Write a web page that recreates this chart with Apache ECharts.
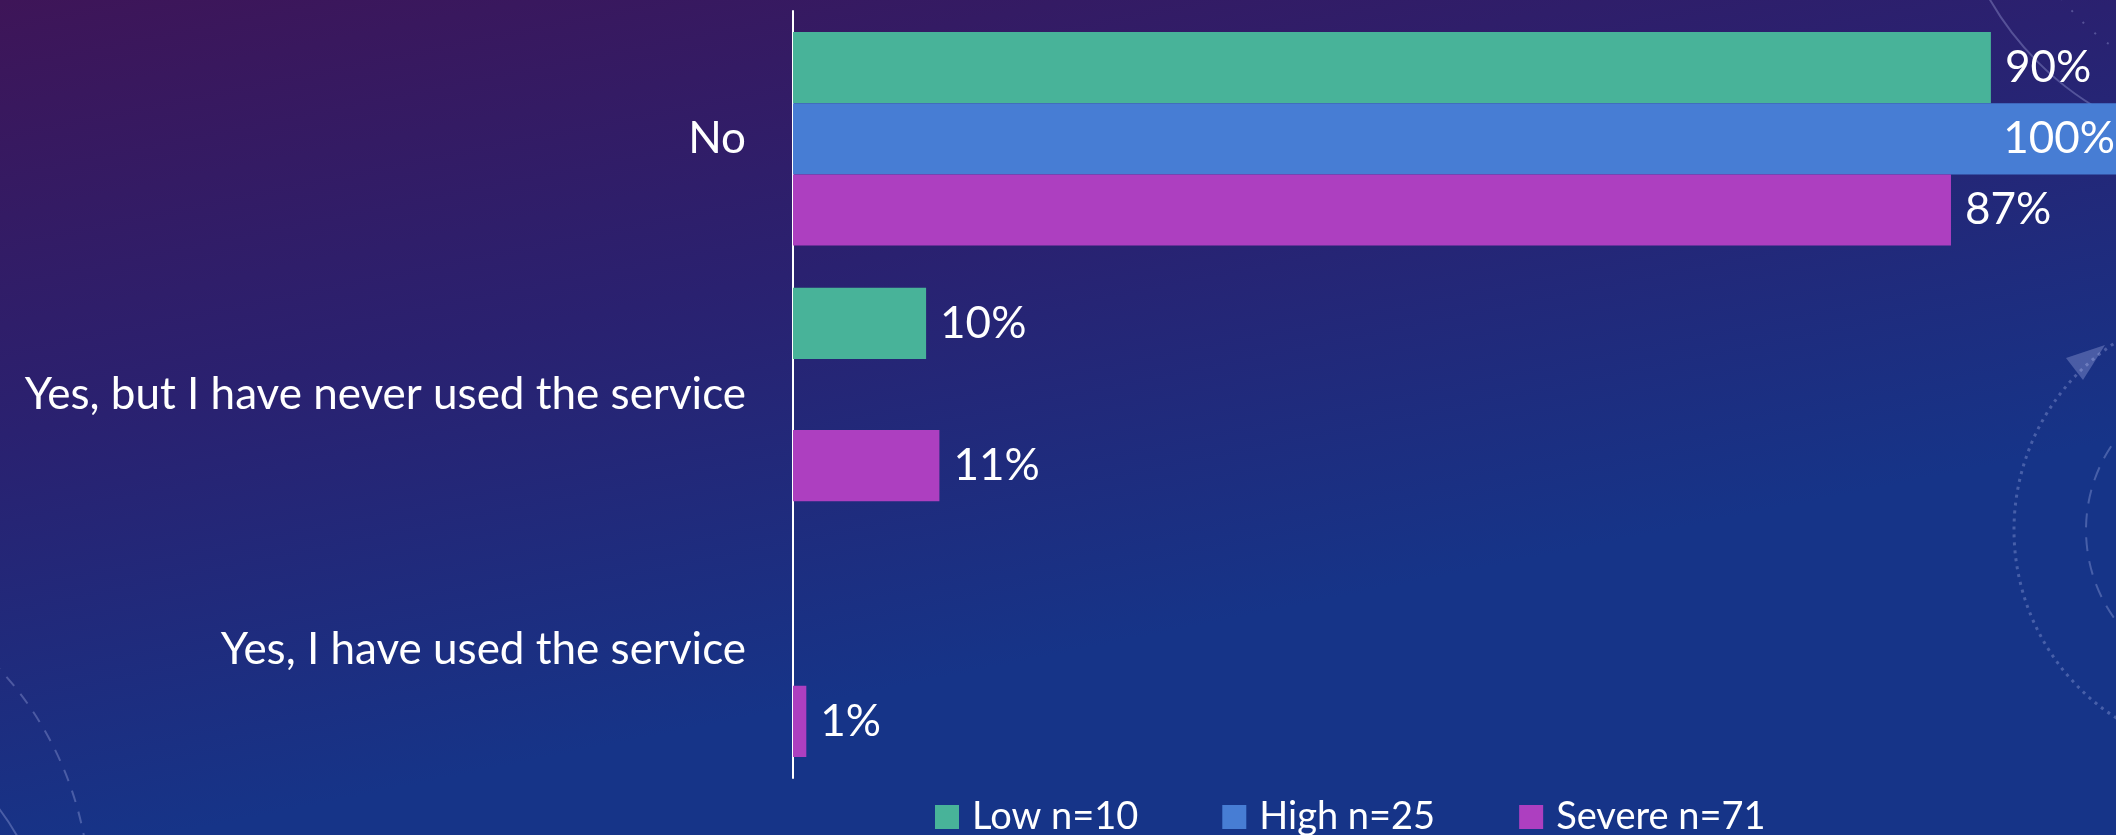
<!DOCTYPE html>
<html>
<head>
<meta charset="utf-8">
<style>
  html, body { margin: 0; padding: 0; }
  #chart { width: 2116px; height: 835px; }
</style>
<script src="https://cdn.jsdelivr.net/npm/echarts@6/dist/echarts.min.js"></script>
</head>
<body>
<div id="chart"></div>
<script>
// categories (top to bottom)
var categories = ["No", "Yes, but I have never used the service", "Yes, I have used the service"];
// series values, percent
var lowValues = [90, 10, 0];
var highValues = [100, 0, 0];
var severeValues = [87, 11, 1];
var seriesNames = ["Low n=10", "High n=25", "Severe n=71"];
var colors = ["#48B399", "#477DD4", "#AD3FC0"];

var myChart = echarts.init(document.getElementById("chart"));

function pctLabel(p) {
  return p.value ? p.value + "%" : "";
}

// label for a bar that runs off the right edge goes inside
function toData(values) {
  return values.map(function (v) {
    if (v >= 100) {
      return { value: v, label: { position: "insideRight", offset: [5, 0] } };
    }
    return v;
  });
}

var font = "Lato";
var decoColor = "rgba(200,210,255,0.28)";

var option = {
  backgroundColor: {
    type: "linear",
    x: 0, y: 0, x2: 0.08, y2: 1,
    colorStops: [
      { offset: 0, color: "#3e1558" },
      { offset: 0.5, color: "#2a2170" },
      { offset: 1, color: "#163488" },
    ],
  },
  color: colors,
  textStyle: { fontFamily: font },
  animation: false,
  graphic: [
    // right side dotted / dashed arcs
    {
      type: "circle", silent: true,
      shape: { cx: 2238, cy: 530, r: 224 },
      style: { fill: null, stroke: decoColor, lineWidth: 3, lineDash: [3, 5] },
    },
    {
      type: "circle", silent: true,
      shape: { cx: 2238, cy: 530, r: 152 },
      style: { fill: null, stroke: decoColor, lineWidth: 2, lineDash: [14, 10] },
    },
    {
      type: "polygon", silent: true,
      shape: { points: [[2066, 358], [2105, 345], [2083, 380]] },
      style: { fill: decoColor },
    },
    // top right ring
    {
      type: "circle", silent: true,
      shape: { cx: 2250, cy: -150, r: 300 },
      style: { fill: null, stroke: decoColor, lineWidth: 2 },
    },
    {
      type: "circle", silent: true,
      shape: { cx: 2250, cy: -150, r: 240 },
      style: { fill: null, stroke: decoColor, lineWidth: 2, lineDash: [2, 14] },
    },
    // bottom left arcs
    {
      type: "circle", silent: true,
      shape: { cx: -250, cy: 900, r: 340 },
      style: { fill: null, stroke: decoColor, lineWidth: 2, lineDash: [12, 10] },
    },
    {
      type: "circle", silent: true,
      shape: { cx: -200, cy: 960, r: 250 },
      style: { fill: null, stroke: decoColor, lineWidth: 2 },
    },
  ],
  legend: {
    data: seriesNames,
    left: 930,
    top: 793,
    itemWidth: 24,
    itemHeight: 24,
    itemGap: 84,
    icon: "rect",
    textStyle: { color: "#ffffff", fontSize: 38, fontFamily: font, padding: [0, 0, 0, 8] },
  },
  grid: {
    left: 793,
    right: -8,
    top: 11,
    bottom: 57,
    containLabel: false,
    outerBoundsMode: "none",
  },
  xAxis: {
    type: "value",
    min: 0,
    max: 100,
    show: false,
  },
  yAxis: {
    type: "category",
    data: categories,
    inverse: true,
    axisLine: { lineStyle: { color: "#ffffff", width: 2 } },
    axisTick: { show: false },
    axisLabel: { color: "#ffffff", fontSize: 44, fontFamily: font, margin: 47 },
  },
  series: [
    { name: seriesNames[0], data: toData(lowValues) },
    { name: seriesNames[1], data: toData(highValues) },
    { name: seriesNames[2], data: toData(severeValues) },
  ].map(function (s) {
    return {
      name: s.name,
      type: "bar",
      data: s.data,
      barGap: "0%",
      barCategoryGap: "16.5%",
      label: {
        show: true,
        position: "right",
        distance: 14,
        color: "#ffffff",
        fontSize: 44,
        fontFamily: font,
        formatter: pctLabel,
      },
    };
  }),
};

myChart.setOption(option);
</script>
</body>
</html>
